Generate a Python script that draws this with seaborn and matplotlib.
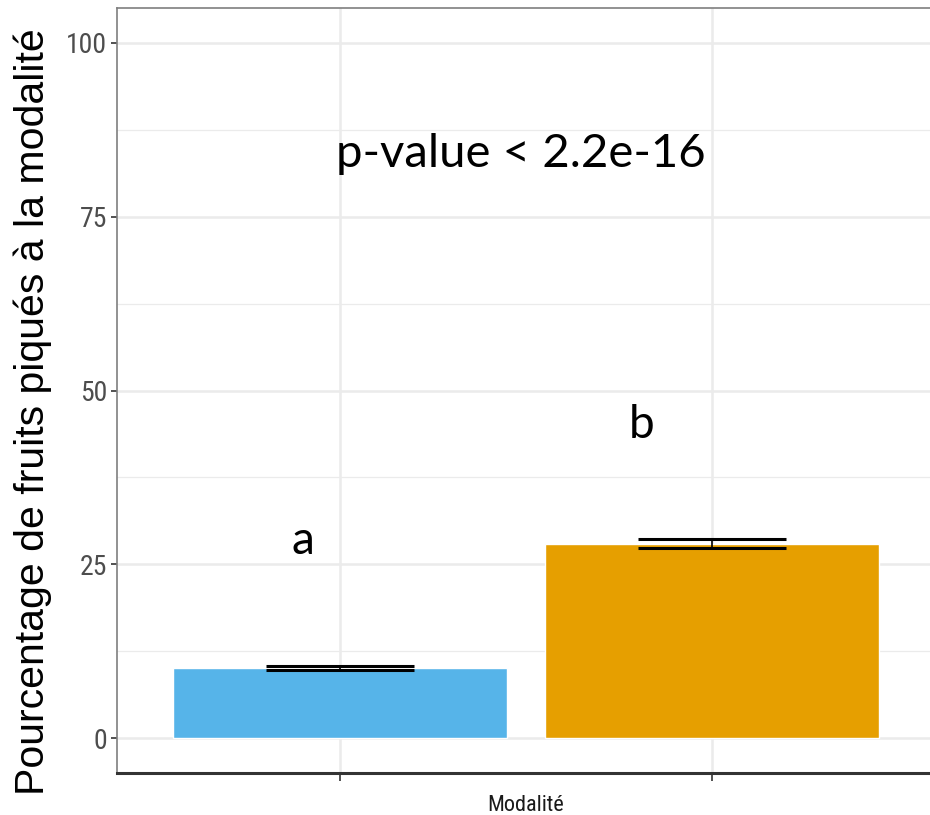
import matplotlib
matplotlib.use("Agg")
import matplotlib.pyplot as plt
import seaborn as sns
import pandas as pd
from matplotlib import font_manager

# Data
modalites = ["Modalité 1", "Modalité 2"]
pourcentages = [10.1, 28.0]
erreurs = [0.35, 0.7]
lettres = ["a", "b"]
lettre_x = [-0.1, 0.81]
lettre_y = [28.4, 45.0]
couleurs = ["#56B4E9", "#E69F00"]
pvalue_text = "p-value < 2.2e-16"

sns.set_theme(style="white")
plt.rcParams['font.family'] = ['Liberation Sans', 'DejaVu Sans']

names = {(f.name, f.stretch) for f in font_manager.fontManager.ttflist}
narrow = None
for fam in ['Liberation Sans Narrow', 'DejaVu Sans Condensed', 'Roboto Condensed']:
    if any(n == fam for n, s in names):
        narrow = dict(family=fam)
        break
if narrow is None:
    if any(n == 'DejaVu Sans' and s == 'condensed' for n, s in names):
        narrow = dict(family='DejaVu Sans', stretch='condensed')
    else:
        narrow = dict(family='Liberation Sans')

df = pd.DataFrame({"Modalite": modalites, "Pourcentage": pourcentages})

fig = plt.figure(figsize=(9.3, 8.15), dpi=100)
ax = fig.add_axes([117/930, 42/815, (935-117)/930, (773-8)/815])

sns.barplot(data=df, x="Modalite", y="Pourcentage", hue="Modalite",
            palette=couleurs, width=0.9, errorbar=None, legend=False,
            saturation=1, ax=ax, zorder=3)

# error bars
for i, (m, e) in enumerate(zip(pourcentages, erreurs)):
    ax.errorbar(i, m, yerr=e, fmt='none', ecolor='black', elinewidth=1.2,
                capsize=0, zorder=4)
    ax.hlines([m - e, m + e], i - 0.2, i + 0.2, colors='black', lw=2.2, zorder=4)

ax.set_xlim(-0.6, 1.6)
ax.set_ylim(-5, 105)
ax.set_yticks([0, 25, 50, 75, 100])
ax.set_yticks([12.5, 37.5, 62.5, 87.5], minor=True)
ax.set_xticks([0, 1])
ax.set_xticklabels(["", ""])

ax.grid(True, which='major', color='#EBEBEB', lw=1.8, zorder=0)
ax.grid(True, which='minor', axis='y', color='#EBEBEB', lw=0.9, zorder=0)
ax.set_axisbelow(True)

ax.tick_params(axis='y', which='major', length=4, width=1.2, color='#333333',
               labelsize=20, labelcolor='#4D4D4D', pad=3, left=True)
ax.tick_params(axis='y', which='minor', length=0)
ax.tick_params(axis='x', which='major', length=6, width=1.2, color='#333333',
               bottom=True, pad=2)
for lab in ax.get_yticklabels():
    lab.set(**narrow)

for side in ['left', 'top']:
    ax.spines[side].set_color('#7F7F7F')
    ax.spines[side].set_linewidth(1.2)
ax.spines['bottom'].set_color('#333333')
ax.spines['bottom'].set_linewidth(2.2)
ax.spines['right'].set_visible(False)

ax.set_ylabel("Pourcentage de fruits piqués à la modalité", fontsize=29.5,
              color='black')
ax.yaxis.set_label_coords(-0.08, 0.473)
ax.set_xlabel("Modalité", fontsize=16, color='#1A1A1A', labelpad=8, **narrow)

ax.text(0.485, 84.0, pvalue_text, fontsize=34, family=['Lato', 'DejaVu Sans'],
        ha='center', va='center', color='black')
for l, lx, ly in zip(lettres, lettre_x, lettre_y):
    ax.text(lx, ly, l, fontsize=33, family=['Lato', 'DejaVu Sans'],
            ha='center', va='center', color='black')

fig.savefig("out.png", dpi=100)
